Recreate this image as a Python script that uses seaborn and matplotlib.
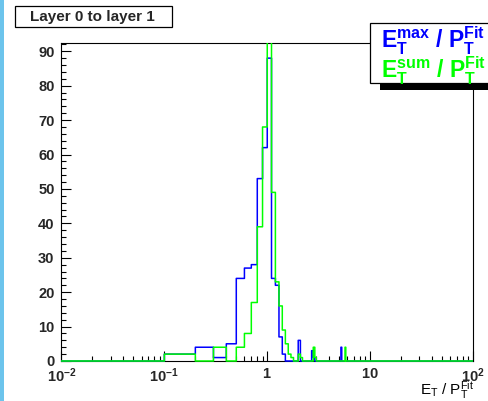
import numpy as np
import pandas as pd
import matplotlib
matplotlib.use("Agg")
import matplotlib.pyplot as plt
from matplotlib.patches import Rectangle
from matplotlib.transforms import Bbox, TransformedBbox
from matplotlib.ticker import MultipleLocator, LogLocator, FixedLocator, FixedFormatter, NullFormatter
import seaborn as sns

# ---- data (bin lower edges of 0.1-wide bins, counts) ----
blue_bins = [0.1, 0.2, 0.3, 0.4, 0.5, 0.6, 0.7, 0.8, 0.9, 1.0, 1.1, 1.2, 1.3, 1.4, 2.0, 2.7, 2.8, 5.2]
blue_counts = [2, 4, 1, 5, 24, 27, 28, 53, 62, 88, 24, 22, 7, 2, 6, 3, 1, 4]
green_bins = [0.1, 0.3, 0.5, 0.6, 0.7, 0.8, 0.9, 1.0, 1.1, 1.2, 1.3, 1.4, 1.5, 1.6, 1.7, 2.0, 2.1, 2.8, 2.9, 5.7]
green_counts = [2, 4, 4, 8, 17, 39, 68, 96, 49, 23, 16, 9, 5, 2, 1, 2, 1, 4, 1, 4]
bin_width = 0.1
n_bins = 1000
title_text = "Layer 0 to layer 1"
y_ticks = [0, 10, 20, 30, 40, 50, 60, 70, 80, 90]
x_ticks = [0.01, 0.1, 1, 10, 100]
x_tick_labels = [r"$\mathbf{10^{-2}}$", r"$\mathbf{10^{-1}}$", r"$\mathbf{1}$", r"$\mathbf{10}$", r"$\mathbf{10^{2}}$"]

sns.set_style("white")
plt.rcParams["font.family"] = ["Liberation Sans", "DejaVu Sans"]
plt.rcParams["mathtext.fontset"] = "custom"
plt.rcParams["mathtext.rm"] = "Liberation Sans"
plt.rcParams["mathtext.it"] = "Liberation Sans"
plt.rcParams["mathtext.bf"] = "Liberation Sans:bold"

W, H = 488, 401
fig = plt.figure(figsize=(W / 100, H / 100), dpi=100)
fig.patch.set_facecolor("white")

def fx(px):
    return px / W

def fy(py):
    return 1 - py / H

# left light-blue strip
fig.patches.append(Rectangle((0, 0), fx(4), 1, transform=fig.transFigure,
                             facecolor="#6cc4ec", edgecolor="none", zorder=0))

x0, x1, ytop, ybot = 61.5, 473, 43, 361
ax = fig.add_axes([fx(x0), fy(ybot), fx(x1 - x0), (ybot - ytop) / H])

edges = [max(i * bin_width, 1e-3) for i in range(n_bins + 1)]
df_b = pd.DataFrame({"x": np.array(blue_bins) + bin_width / 2, "w": blue_counts})
df_g = pd.DataFrame({"x": np.array(green_bins) + bin_width / 2, "w": green_counts})

sns.histplot(data=df_b, x="x", weights="w", bins=edges, element="step", fill=False,
             color="#0000ff", linewidth=1.1, ax=ax, zorder=3)
sns.histplot(data=df_g, x="x", weights="w", bins=edges, element="step", fill=False,
             color="#00ff00", linewidth=1.1, ax=ax, zorder=3)

ax.set_xscale("log")
ax.set_xlim(0.01, 100)
ax.set_ylim(0, 1.05 * max(blue_counts))
ax.set_xlabel("")
ax.set_ylabel("")

clipbb = TransformedBbox(Bbox([[0, -0.01], [1, 1]]), ax.transAxes)
for ln in ax.lines:
    ln.set_clip_box(clipbb)

for s in ax.spines.values():
    s.set_color("black")
    s.set_linewidth(0.8)
    s.set_zorder(2.5)

ax.yaxis.set_major_locator(FixedLocator(y_ticks))
ax.yaxis.set_minor_locator(MultipleLocator(2))
ax.set_yticklabels([str(v) for v in y_ticks], fontweight="bold", fontsize=10.5)
ax.xaxis.set_major_locator(FixedLocator(x_ticks))
ax.xaxis.set_major_formatter(FixedFormatter(x_tick_labels))
ax.xaxis.set_minor_locator(LogLocator(base=10, subs=np.arange(2, 10)))
ax.xaxis.set_minor_formatter(NullFormatter())
ax.tick_params(axis="both", which="major", direction="in", length=7.5, width=0.8,
               color="black", labelsize=10.5, top=False, right=False, bottom=True, left=True)
ax.tick_params(axis="both", which="minor", direction="in", length=3.8, width=0.8,
               color="black", top=False, right=False, bottom=True, left=True)
ax.tick_params(axis="y", which="major", pad=5)
ax.tick_params(axis="x", which="major", pad=4)

# x-axis title
fig.text(fx(474), fy(395), r"$\mathregular{E_T\ /\ P_T^{Fit}}$", ha="right", va="baseline",
         fontsize=11, color="black")

# title box
fig.patches.append(Rectangle((fx(15), fy(27.3)), fx(172.3 - 15), (27.3 - 6) / H,
                             transform=fig.transFigure, facecolor="white",
                             edgecolor="black", linewidth=0.9, zorder=5))
fig.text(fx(92.5), fy(16.8), title_text, ha="center", va="center", fontsize=11,
         fontweight="bold", zorder=6)

# legend box with shadow
fig.patches.append(Rectangle((fx(380), fy(89.5)), fx(120), (89.5 - 82.7) / H,
                             transform=fig.transFigure, facecolor="black",
                             edgecolor="none", zorder=5))
fig.patches.append(Rectangle((fx(370), fy(82.7)), fx(130), (82.7 - 23.3) / H,
                             transform=fig.transFigure, facecolor="white",
                             edgecolor="black", linewidth=0.9, zorder=6))
fig.text(fx(381), fy(48.5), r"$\mathbf{E_{T}^{max}\ /\ P_{T}^{Fit}}$", ha="left",
         va="baseline", fontsize=16.5, color="#0000ff", zorder=7)
fig.text(fx(381), fy(78.5), r"$\mathbf{E_{T}^{sum}\ /\ P_{T}^{Fit}}$", ha="left",
         va="baseline", fontsize=16.5, color="#00ff00", zorder=7)

fig.savefig("out.png", dpi=100, facecolor="white")
